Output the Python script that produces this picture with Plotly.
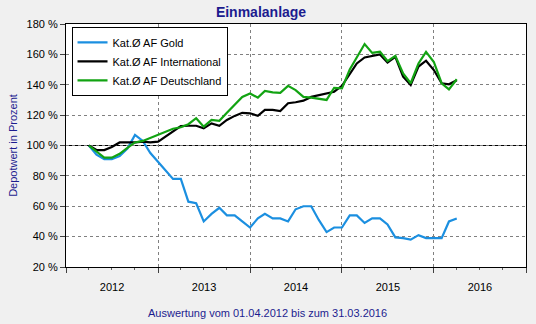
import pandas as pd
import plotly.graph_objects as go

# ---- data (monthly values, 01.04.2012 .. 01.04.2016) ----
months = pd.date_range("2012-04-01", periods=49, freq="MS")

gold = [100, 94, 91, 91, 93, 98, 107, 103, 95, 89, 83, 78, 78, 63, 62, 50, 55, 59, 54, 54,
        50, 46, 52, 55, 52, 52, 50, 58, 60, 60, 51, 43, 46, 46, 54, 54, 49, 52, 52, 48,
        39.5, 39, 38, 41, 39, 39, 39, 50, 52]
international = [100, 97, 97, 99, 102, 102, 102, 102.5, 102, 102.5, 106, 109, 112.8, 113, 113,
                 111.3, 114.6, 113, 116.8, 119.5, 121.5, 121.2, 119.6, 123.4, 123.5, 122.7, 127.8,
                 128.5, 129.5, 132, 133, 134, 135.4, 139.3, 147.5, 154, 158, 159, 160, 154.7, 158.4,
                 145.3, 139.8, 152, 155.8, 149.7, 141, 140.3, 143]
deutschland = [100, 96, 92, 92, 94.5, 98.5, 102, 103, 105, 107, 109.5, 111, 112, 114, 118, 112.4,
               116.8, 116.3, 121.5, 127, 132, 134.3, 131.5, 135.9, 135, 134.7, 139.3, 136.5, 132,
               131.5, 131, 130, 138, 137.6, 150, 158, 166.8, 161, 161.7, 155.6, 159, 147.5, 141,
               154, 161.7, 155, 141, 137, 143.6]

series_names = ["Kat.Ø AF Gold", "Kat.Ø AF International", "Kat.Ø AF Deutschland"]
series_values = [gold, international, deutschland]
series_colors = ["#1b8fe0", "#000000", "#12a312"]

BASELINE = 100
x_range = ["2012-01-01", "2017-01-01"]
y_range = [20, 180]

title_text = "Einmalanlage"
y_title = "Depotwert in Prozent"
footer_text = "Auswertung vom 01.04.2012 bis zum 31.03.2016"

FONT = "Liberation Sans, Arial, sans-serif"
NAVY = "#1c1c8f"

fig = go.Figure()
for name, vals, col in zip(series_names, series_values, series_colors):
    fig.add_trace(go.Scatter(x=months, y=vals, mode="lines", name=name,
                             line=dict(color=col, width=2.2)))

fig.add_hline(y=BASELINE, line=dict(color="black", width=1.2), layer="below")

fig.update_layout(
    width=536, height=324,
    margin=dict(l=66, r=10, t=24, b=57),
    paper_bgcolor="#f0f0f0",
    plot_bgcolor="white",
    font=dict(family=FONT, size=11, color="black"),
    title=dict(text="<b>" + title_text + "</b>", x=0.487, xanchor="center",
               y=1 - 12 / 324, yanchor="middle",
               font=dict(family=FONT, size=14, color=NAVY)),
    showlegend=True,
    legend=dict(x=0.012, y=0.988, xanchor="left", yanchor="top",
                bgcolor="white", bordercolor="black", borderwidth=1,
                font=dict(family=FONT, size=11, color="black"),
                itemwidth=30, tracegroupgap=0),
    xaxis=dict(type="date", range=x_range, tick0="2012-01-01", dtick="M12",
               ticklabelmode="period", tickformat="%Y",
               showgrid=True, gridcolor="#808080", griddash="3px,3px", gridwidth=1,
               showline=True, linecolor="black", linewidth=1, mirror=True,
               ticks="outside", ticklen=5, tickcolor="#404040",
               ticklabelstandoff=5,
               minor=dict(dtick="M3", ticks="outside", ticklen=2, tickcolor="#606060",
                          showgrid=False),
               zeroline=False),
    yaxis=dict(range=y_range, dtick=20, tick0=20, ticksuffix=" %",
               showgrid=True, gridcolor="#808080", griddash="3px,3px", gridwidth=1,
               showline=True, linecolor="black", linewidth=1, mirror=True,
               ticks="outside", ticklen=5, tickcolor="#404040",
               zeroline=False,
               title=dict(text=y_title, standoff=6,
                          font=dict(family=FONT, size=11, color=NAVY))),
    annotations=[dict(text=footer_text, xref="paper", yref="paper",
                      x=0.439, y=-0.189, xanchor="center", yanchor="middle",
                      showarrow=False, font=dict(family=FONT, size=11, color=NAVY))],
)

fig.write_html("out.html")
